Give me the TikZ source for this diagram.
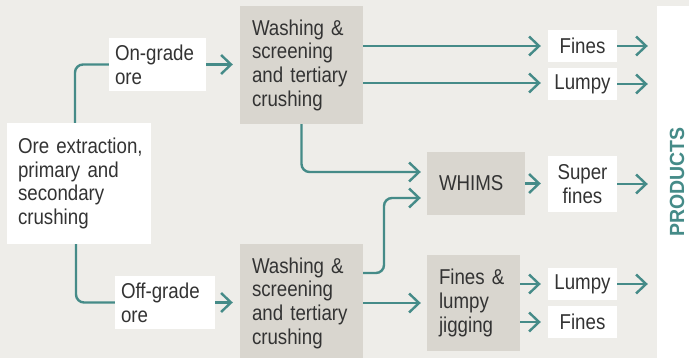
\documentclass[tikz,border=0pt]{standalone}
\usepackage{fontspec}
\setmainfont{Liberation Sans}[FakeStretch=0.87]
\newfontfamily\prodfont{Liberation Sans}[FakeStretch=0.95]
\usetikzlibrary{arrows.meta}
\definecolor{bg}{HTML}{EEEDE9}
\definecolor{boxgray}{HTML}{D9D6CF}
\definecolor{teal}{HTML}{458B88}
\definecolor{txt}{HTML}{333333}
\tikzset{
  base/.style={inner xsep=0pt, inner ysep=0pt, text=txt, font=\fontsize{21.5}{23.7}\selectfont},
  gbox/.style={base, fill=boxgray, align=left},
  wbox/.style={base, fill=white, align=left},
  pbox/.style={base, fill=white, align=center, minimum width=69pt, text width=69pt},
  conn/.style={draw=teal, line width=2.4pt, rounded corners=8pt},
  arr/.style={conn, -{Straight Barb[length=10pt,width=19pt]}},
}
\begin{document}
\begin{tikzpicture}[x=1pt,y=1pt]
\fill[bg] (0,0) rectangle (689,-358);
\useasboundingbox (0,0) rectangle (689,-358);
% white products panel
\node[fill=white, minimum width=32pt, minimum height=356pt, inner sep=0pt] (panel) at (673,-184) {};
\node[rotate=90, text=teal, font=\prodfont\bfseries\fontsize{20.5}{20.5}\selectfont] (prod) at (677,-182) {PRODUCTS};
% nodes
\node[wbox, minimum width=144pt, minimum height=121pt, text width=122pt] (ore) at (79,-183.5)
  {\mbox{Ore extraction,}\\\mbox{primary and}\\secondary\\crushing};
\node[wbox, minimum width=97pt, minimum height=53pt, text width=85pt] (ong) at (157.5,-64.5)
  {\mbox{On-grade}\\ore};
\node[wbox, minimum width=100pt, minimum height=53pt, text width=88pt] (offg) at (165,-302.5)
  {\mbox{Off-grade}\\ore};
\node[gbox, minimum width=123pt, minimum height=118pt, text width=99pt] (wash1) at (301.5,-65)
  {\mbox{Washing \&}\\screening\\\mbox{and tertiary}\\crushing};
\node[gbox, minimum width=123pt, minimum height=118pt, text width=99pt] (wash2) at (301.5,-303)
  {\mbox{Washing \&}\\screening\\\mbox{and tertiary}\\crushing};
\node[gbox, minimum width=98pt, minimum height=63pt, text width=74pt] (whims) at (476,-183.5)
  {WHIMS};
\node[gbox, minimum width=93pt, minimum height=96pt, text width=69pt] (jig) at (473.5,-303)
  {\mbox{Fines \&}\\lumpy\\jigging};
\node[pbox, minimum height=32pt] (fines1) at (582.5,-46) {Fines};
\node[pbox, minimum height=32pt] (lumpy1) at (582.5,-84) {Lumpy};
\node[pbox, minimum height=56pt] (sf) at (582.5,-184) {Super\\fines};
\node[pbox, minimum height=32pt] (lumpy2) at (582.5,-284) {Lumpy};
\node[pbox, minimum height=32pt] (fines2) at (582.5,-322) {Fines};
% helper coordinates
\coordinate (bend) at (384,-235);
% connectors
\draw[conn] ([xshift=-4pt]ore.north) |- (ong.west);
\draw[conn] ([xshift=-3pt]ore.south) |- (offg.west);
\draw[arr, shorten >=7pt] (ong.east) -- (ong.east -| wash1.west);
\draw[arr, shorten >=7pt] (offg.east) -- (offg.east -| wash2.west);
\draw[arr, shorten >=7pt] (fines1.west -| wash1.east) -- (fines1.west);
\draw[arr, shorten >=7pt] ([yshift=1pt]lumpy1.west -| wash1.east) -- ([yshift=1pt]lumpy1.west);
\draw[arr, shorten >=6pt] (wash1.south) |- ([yshift=11.5pt]whims.west);
\draw[arr, shorten >=6pt] ([yshift=30pt]wash2.east) -| (bend) |- ([yshift=-14.5pt]whims.west);
\draw[arr, shorten >=6pt] (jig.west -| wash2.east) -- (jig.west);
\draw[arr, shorten >=7pt] (whims.east) -- (whims.east -| sf.west);
\draw[arr, shorten >=7pt] (lumpy2.west -| jig.east) -- (lumpy2.west);
\draw[arr, shorten >=7pt] (fines2.west -| jig.east) -- (fines2.west);
\draw[arr, shorten >=9pt] (fines1.east) -- (fines1.east -| panel.west);
\draw[arr, shorten >=9pt] (lumpy1.east) -- (lumpy1.east -| panel.west);
\draw[arr, shorten >=9pt] (sf.east) -- (sf.east -| panel.west);
\draw[arr, shorten >=9pt] (lumpy2.east) -- (lumpy2.east -| panel.west);
\end{tikzpicture}
\end{document}
